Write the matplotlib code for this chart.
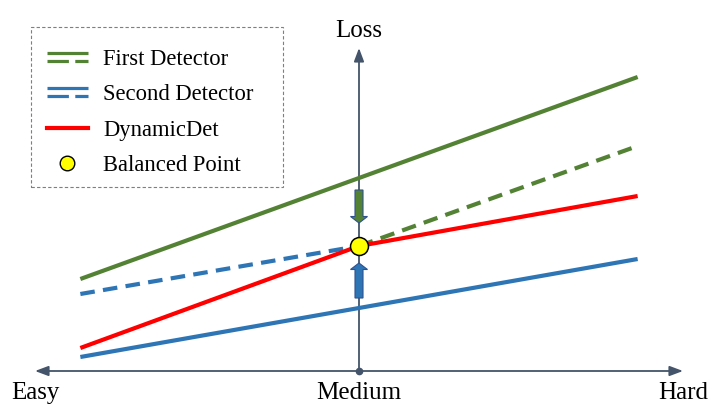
import matplotlib
matplotlib.use('Agg')
import matplotlib.pyplot as plt
from matplotlib.lines import Line2D
from matplotlib.patches import Rectangle
from matplotlib.legend_handler import HandlerBase

plt.rcParams['font.family'] = ['Liberation Serif', 'DejaVu Serif']

# ---------------- data ----------------
difficulty_labels = ['Easy', 'Medium', 'Hard']
difficulty_pos = [0, 1, 2]
loss_label = 'Loss'
loss_axis_top = 3.23

first_solid_x = [0.14, 1.86]
first_solid_y = [0.92, 2.94]
first_dashed_x = [1.0, 1.86]
first_dashed_y = [1.25, 2.25]

second_solid_x = [0.14, 1.86]
second_solid_y = [0.14, 1.12]
second_dashed_x = [0.14, 1.0]
second_dashed_y = [0.77, 1.25]

dyn_x = [0.14, 1.0, 1.86]
dyn_y = [0.23, 1.25, 1.75]

balanced_x = [1.0]
balanced_y = [1.25]

push_down_y = [1.81, 1.48]   # arrow from first detector toward balance
push_up_y = [0.73, 1.08]     # arrow from second detector toward balance

legend_labels = ['First Detector', 'Second Detector', 'DynamicDet', 'Balanced Point']

# ---------------- style ----------------
GREEN = '#548235'
BLUE = '#2E75B6'
RED = '#FF0000'
YELLOW = '#FFFF00'
AXIS = '#44546A'
OUTLINE = '#2F528F'
LW = 3.0
DASH = (0, (3.5, 2.0))

fig = plt.figure(figsize=(7.22, 4.15), dpi=100)
ax = fig.add_axes([0, 0, 1, 1])
ax.set_xlim(-35 / 324, (722 - 35) / 324)
ax.set_ylim(-0.44, 3.71)
ax.axis('off')

# axes arrows
ax.annotate('', xy=(difficulty_pos[0], 0), xytext=(difficulty_pos[-1], 0),
            arrowprops=dict(arrowstyle='<|-|>,head_length=0.8,head_width=0.3',
                            color=AXIS, lw=1.3, shrinkA=0, shrinkB=0), zorder=1)
ax.annotate('', xy=(difficulty_pos[1], loss_axis_top), xytext=(difficulty_pos[1], 0),
            arrowprops=dict(arrowstyle='-|>,head_length=0.8,head_width=0.3',
                            color=AXIS, lw=1.3, shrinkA=0, shrinkB=0), zorder=1)
ax.plot([difficulty_pos[1]], [0], 'o', color=AXIS, markersize=4.5, zorder=2)

for p, lab in zip(difficulty_pos, difficulty_labels):
    ax.text(p, -0.28, lab, ha='center', va='baseline', fontsize=18, color='black')
ax.text(difficulty_pos[1], 3.34, loss_label, ha='center', va='baseline', fontsize=18)

# lines
ax.plot(first_solid_x, first_solid_y, color=GREEN, lw=LW, solid_capstyle='butt', zorder=3)
ax.plot(first_dashed_x, first_dashed_y, color=GREEN, lw=LW, linestyle=DASH,
        dash_capstyle='butt', zorder=3)
ax.plot(second_solid_x, second_solid_y, color=BLUE, lw=LW, solid_capstyle='butt', zorder=3)
ax.plot(second_dashed_x, second_dashed_y, color=BLUE, lw=LW, linestyle=DASH,
        dash_capstyle='butt', zorder=3)
ax.plot(dyn_x, dyn_y, color=RED, lw=LW, solid_capstyle='butt', zorder=4)

# block arrows
sw = 8 / 324
hw = 17 / 324
hl = 0.065
ax.arrow(balanced_x[0], push_down_y[0], 0, push_down_y[1] - push_down_y[0], width=sw,
         head_width=hw, head_length=hl, length_includes_head=True,
         facecolor=GREEN, edgecolor=OUTLINE, lw=0.8, zorder=5)
ax.arrow(balanced_x[0], push_up_y[0], 0, push_up_y[1] - push_up_y[0], width=sw,
         head_width=hw, head_length=hl, length_includes_head=True,
         facecolor=BLUE, edgecolor=OUTLINE, lw=0.8, zorder=5)

ax.plot(balanced_x, balanced_y, 'o', markersize=12.9, markerfacecolor=YELLOW,
        markeredgecolor='black', markeredgewidth=1.1, zorder=6)


# legend
class HandlerDouble(HandlerBase):
    def create_artists(self, legend, orig_handle, xdescent, ydescent, width, height,
                       fontsize, trans):
        c = orig_handle.get_color()
        yc = height / 2 - ydescent
        l1 = Line2D([-xdescent, width - xdescent], [yc + 2.8, yc + 2.8], color=c,
                    lw=2.3, solid_capstyle='butt', transform=trans)
        l2 = Line2D([-xdescent, width - xdescent], [yc - 2.8, yc - 2.8], color=c,
                    lw=2.3, linestyle=(0, (6.7, 2.0)), dash_capstyle='butt', transform=trans)
        return [l1, l2]


h_first = Line2D([], [], color=GREEN)
h_second = Line2D([], [], color=BLUE)
h_dyn = Line2D([], [], color=RED, lw=LW)
h_bal = Line2D([], [], linestyle='none', marker='o', markersize=10.5,
               markerfacecolor=YELLOW, markeredgecolor='black', markeredgewidth=1.0)

leg = fig.legend([h_first, h_second, h_dyn, h_bal], legend_labels,
                 handler_map={h_first: HandlerDouble(), h_second: HandlerDouble()},
                 loc='upper left', bbox_to_anchor=(47 / 722, 1 - 49 / 415),
                 bbox_transform=fig.transFigure, frameon=False, fontsize=16.3,
                 borderpad=0, borderaxespad=0, handlelength=1.81,
                 handletextpad=0.66, labelspacing=0.63)

fig.patches.append(Rectangle((31 / 722, 1 - 187 / 415), 252 / 722, 160 / 415,
                             transform=fig.transFigure, fill=False,
                             edgecolor='#7F7F7F', lw=0.8, linestyle=(0, (3, 2))))

fig.savefig('out.png', dpi=100)
